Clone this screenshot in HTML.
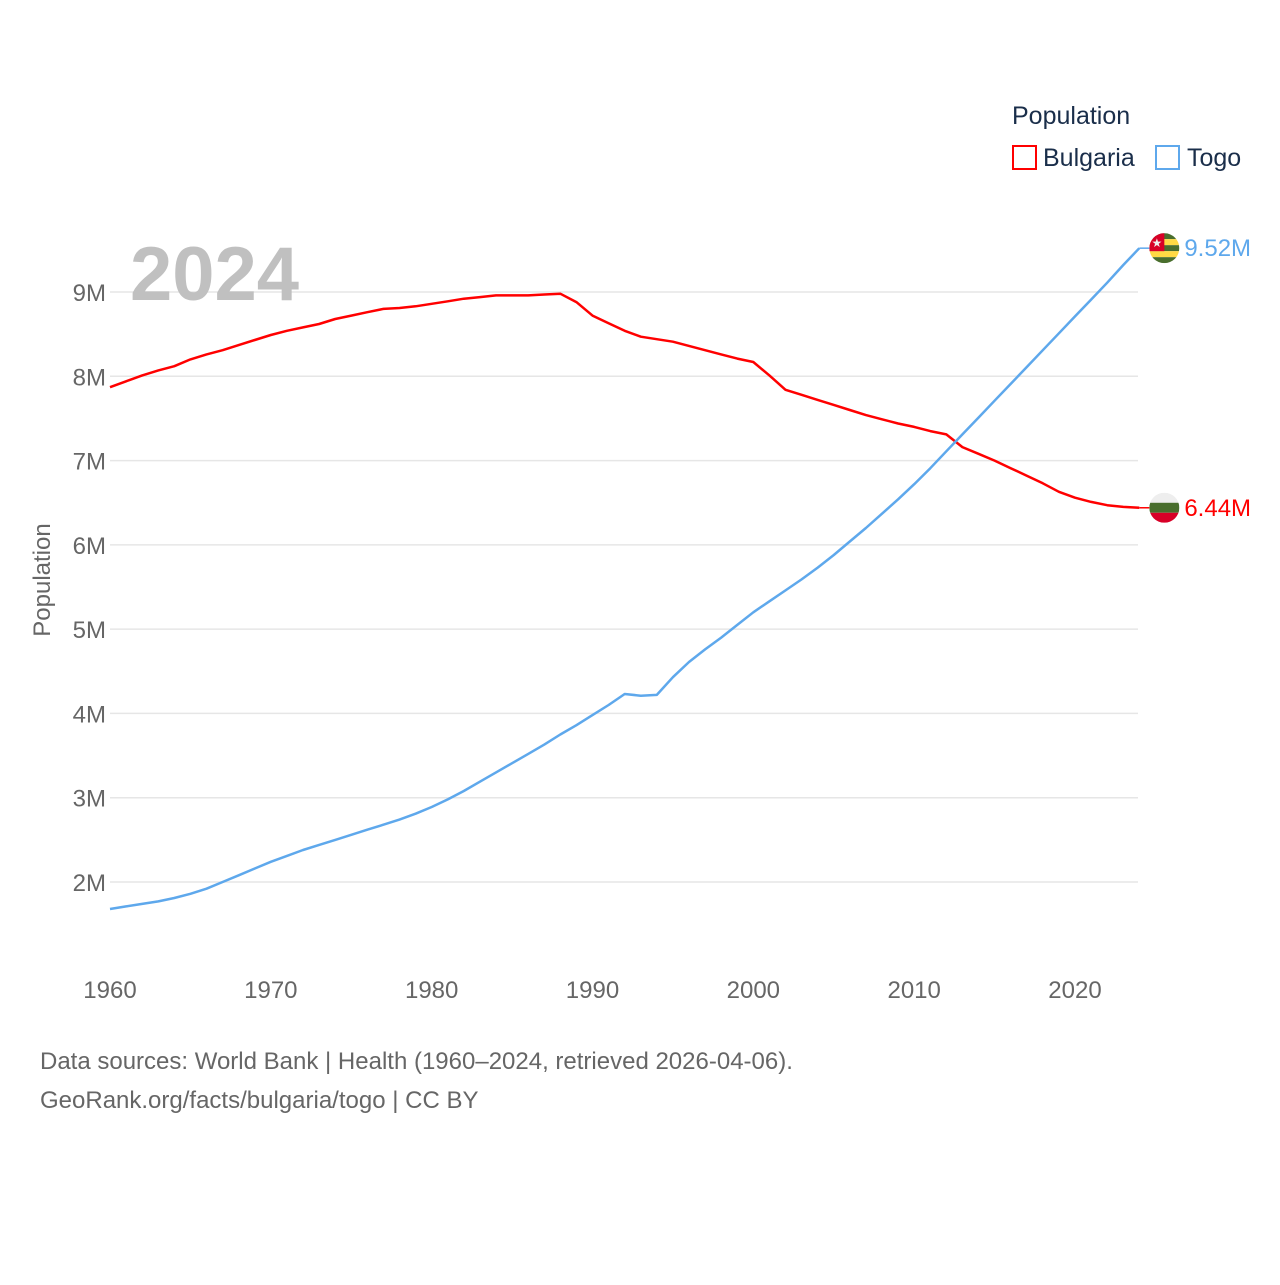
<!DOCTYPE html>
<html><head><meta charset="utf-8"><style>
body{margin:0;background:#fff;}
svg text{font-family:"Liberation Sans",sans-serif;}
</style></head><body>
<svg id="chart" width="1280" height="1280" viewBox="0 0 1280 1280" xmlns="http://www.w3.org/2000/svg">
<g id="grid"></g>
<g id="xaxis"></g>
<g id="yaxis"></g>
<text x="130" y="300" font-size="76" font-weight="bold" fill="#c0c0c0">2024</text>
<text transform="translate(50,580) rotate(-90)" text-anchor="middle" font-size="24" fill="#666">Population</text>
<g id="series"></g>
<g>
<text x="1012" y="124" font-size="25" fill="#1a2e4a">Population</text>
<rect x="1013" y="146" width="23" height="23" fill="none" stroke="#ff0000" stroke-width="2"/>
<text x="1043" y="166" font-size="25" fill="#1a2e4a">Bulgaria</text>
<rect x="1156" y="146" width="23" height="23" fill="none" stroke="#5ea8ec" stroke-width="2"/>
<text x="1187" y="166" font-size="25" fill="#1a2e4a">Togo</text>
</g>
<g id="labels"></g>
<text x="40" y="1069" font-size="24" fill="#666">Data sources: World Bank | Health (1960–2024, retrieved 2026-04-06).</text>
<text x="40" y="1108" font-size="24" fill="#666">GeoRank.org/facts/bulgaria/togo | CC BY</text>
</svg>
<script>
const years = [];
for (let y = 1960; y <= 2024; y++) years.push(y);
const bulgaria = [7.87,7.94,8.01,8.07,8.12,8.20,8.26,8.31,8.37,8.43,8.49,8.54,8.58,8.62,8.68,8.72,8.76,8.80,8.81,8.83,8.86,8.89,8.92,8.94,8.96,8.96,8.96,8.97,8.98,8.88,8.72,8.63,8.54,8.47,8.44,8.41,8.36,8.31,8.26,8.21,8.17,8.01,7.84,7.78,7.72,7.66,7.60,7.54,7.49,7.44,7.40,7.35,7.31,7.16,7.08,7.00,6.91,6.82,6.73,6.63,6.56,6.51,6.47,6.45,6.44];
const togo = [1.68,1.71,1.74,1.77,1.81,1.86,1.92,2.00,2.08,2.16,2.24,2.31,2.38,2.44,2.50,2.56,2.62,2.68,2.74,2.81,2.89,2.98,3.08,3.19,3.30,3.41,3.52,3.63,3.75,3.86,3.98,4.10,4.23,4.21,4.22,4.43,4.61,4.76,4.90,5.05,5.20,5.33,5.46,5.59,5.73,5.88,6.04,6.20,6.37,6.54,6.72,6.91,7.11,7.31,7.51,7.71,7.91,8.11,8.31,8.51,8.71,8.91,9.11,9.32,9.52];
const yTicks = [2,3,4,5,6,7,8,9];
const xTicks = [1960,1970,1980,1990,2000,2010,2020];
const NS = 'http://www.w3.org/2000/svg';
const xs = y => 110 + (y - 1960) * (1075 - 110) / 60;
const ys = v => 882 - (v - 2) * (590 / 7);
function mk(tag, attrs, parent, txt) {
  const e = document.createElementNS(NS, tag);
  for (const k in attrs) e.setAttribute(k, attrs[k]);
  if (txt !== undefined) e.textContent = txt;
  parent.appendChild(e); return e;
}
const grid = document.getElementById('grid'), yaxis = document.getElementById('yaxis'), xaxis = document.getElementById('xaxis');
yTicks.forEach(t => {
  const l = mk('line', {x1: 110, x2: 1138, y1: ys(t), y2: ys(t), stroke: '#e6e6e6', 'stroke-width': 1.5}, grid);
  
  
  const tx = mk('text', {x: 106, y: ys(t) + 9, 'text-anchor': 'end', 'font-size': 24, fill: '#666'}, yaxis, t + 'M');
  
  
});
xTicks.forEach(t => {
  const tx = mk('text', {x: xs(t), y: 998, 'text-anchor': 'middle', 'font-size': 24, fill: '#666'}, xaxis, String(t));
  
  
});
const series = document.getElementById('series'), labels = document.getElementById('labels');
function draw(vals, color, name, fmt, flag) {
  const d = vals.map((v, i) => (i ? 'L' : 'M') + xs(years[i]).toFixed(1) + ' ' + ys(v).toFixed(1)).join(' ');
  const p = mk('path', {d: d, fill: 'none', stroke: color, 'stroke-width': 2.5, 'stroke-linejoin': 'round'}, series);
  
  
  const last = vals[vals.length - 1], lx = xs(years[years.length - 1]), ly = ys(last);
  mk('line', {x1: lx, x2: lx + 10, y1: ly, y2: ly, stroke: color, 'stroke-width': 1.5}, labels);
  const g = mk('g', {}, labels);
  
  
  flag(g, lx + 25, ly);
  const t = mk('text', {x: lx + 45, y: ly + 8, 'font-size': 24, fill: color}, labels, fmt);
  
  
}
function clipCircle(g, cx, cy, id) {
  const cp = mk('clipPath', {id: id}, g);
  mk('circle', {cx: cx, cy: cy, r: 15}, cp);
  return mk('g', {'clip-path': 'url(#' + id + ')'}, g);
}
draw(bulgaria, '#ff0000', 'bulgaria', '6.44M', (g, cx, cy) => {
  const c = clipCircle(g, cx, cy, 'cb');
  mk('rect', {x: cx - 15, y: cy - 15, width: 30, height: 10, fill: '#eeeeee'}, c);
  mk('rect', {x: cx - 15, y: cy - 5, width: 30, height: 10, fill: '#496e2d'}, c);
  mk('rect', {x: cx - 15, y: cy + 5, width: 30, height: 10, fill: '#d80027'}, c);
});
draw(togo, '#5ea8ec', 'togo', '9.52M', (g, cx, cy) => {
  const c = clipCircle(g, cx, cy, 'ct');
  const cols = ['#496e2d', '#ffda44', '#496e2d', '#ffda44', '#496e2d'];
  cols.forEach((col, i) => mk('rect', {x: cx - 15, y: cy - 15 + i * 6, width: 30, height: 6, fill: col}, c));
  mk('rect', {x: cx - 15, y: cy - 15, width: 15, height: 18, fill: '#d80027'}, c);
  mk('text', {x: cx - 7.5, y: cy - 1, 'text-anchor': 'middle', 'font-size': 12, fill: '#eee'}, c, '★');
});
</script>
</body></html>
